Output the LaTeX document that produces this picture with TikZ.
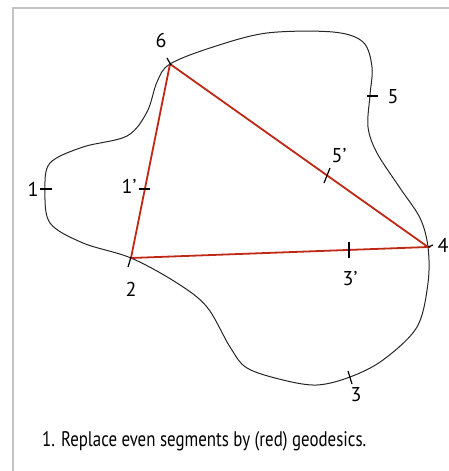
\documentclass[tikz,border=0pt]{standalone}
\usepackage{fontspec}
\setmainfont{PT Sans}
\usepackage{tikz}
\usetikzlibrary{calc}
\definecolor{geo}{HTML}{BE2814}
\definecolor{frame}{HTML}{C4C4C4}

\begin{document}
\begin{tikzpicture}[
  x=1pt, y=-1pt,
  curve/.style={draw=black!85, line width=1pt},
  geod/.style={draw=geo, line width=1.8pt},
  tick/.style={draw=black, line width=1.2pt},
  lbl/.style={font=\fontsize{20}{21}\selectfont, inner sep=0pt}
]
  \useasboundingbox (0,0) rectangle (449,471);
  % light frame, top and left only
  \draw[frame, line width=2pt] (13,471) -- (13,8) -- (449,8);

  % corners of the triangle
  \coordinate (p6) at (170,64);
  \coordinate (p2) at (131,258);
  \coordinate (p4) at (428,247);

  % the closed curve
  \draw[curve] plot[smooth cycle, tension=0.55] coordinates {
    (170,64) (213,47) (267,33) (333,32) (363,42) (372,67) (370,95)
    (368,127) (377,153) (400,188) (420,218) (428,247) (428,283)
    (417,327) (383,360) (350,377) (317,385) (283,380) (247,368)
    (230,347) (207,307) (177,283) (131,258) (83,243) (50,223)
    (45,190) (50,163) (83,147) (127,136) (147,112) (157,82)};

  % geodesics
  \draw[geod] (p6) -- (p2) -- (p4) -- cycle;

  % ticks on the curve
  \draw[tick] (40,189) -- (52,189);
  \draw[tick] (367,96) -- (378,96);
  \draw[tick] (348,371) -- (352,384);
  \draw[tick] (128,267) -- (131,257);
  \draw[tick] (167,58) -- (171,65);
  \draw[tick] (428,247) -- (433,245);
  % ticks on the geodesics
  \draw[tick] (139,189) -- (150,189);
  \draw[tick] (349,242) -- (349,258);
  \draw[tick] (324,183) -- (330,168);

  % labels
  \node[lbl] (l6) at (161,40) {6};
  \node[lbl] (l2) at (131,289) {2};
  \node[lbl] (l4) at (443,245) {4};
  \node[lbl] (l1) at (33,189) {1};
  \node[lbl] (l1p) at (129,186) {1’};
  \node[lbl] (l5) at (393,97) {5};
  \node[lbl] (l5p) at (339,156) {5’};
  \node[lbl] (l3p) at (350,279) {3’};
  \node[lbl] (l3) at (356,395) {3};

  \node[lbl, anchor=west] (cap) at (42,441)
    {\resizebox{324pt}{!}{\scalebox{0.8}[1]{1. Replace even segments by (red) geodesics.}}};
\end{tikzpicture}
\end{document}
